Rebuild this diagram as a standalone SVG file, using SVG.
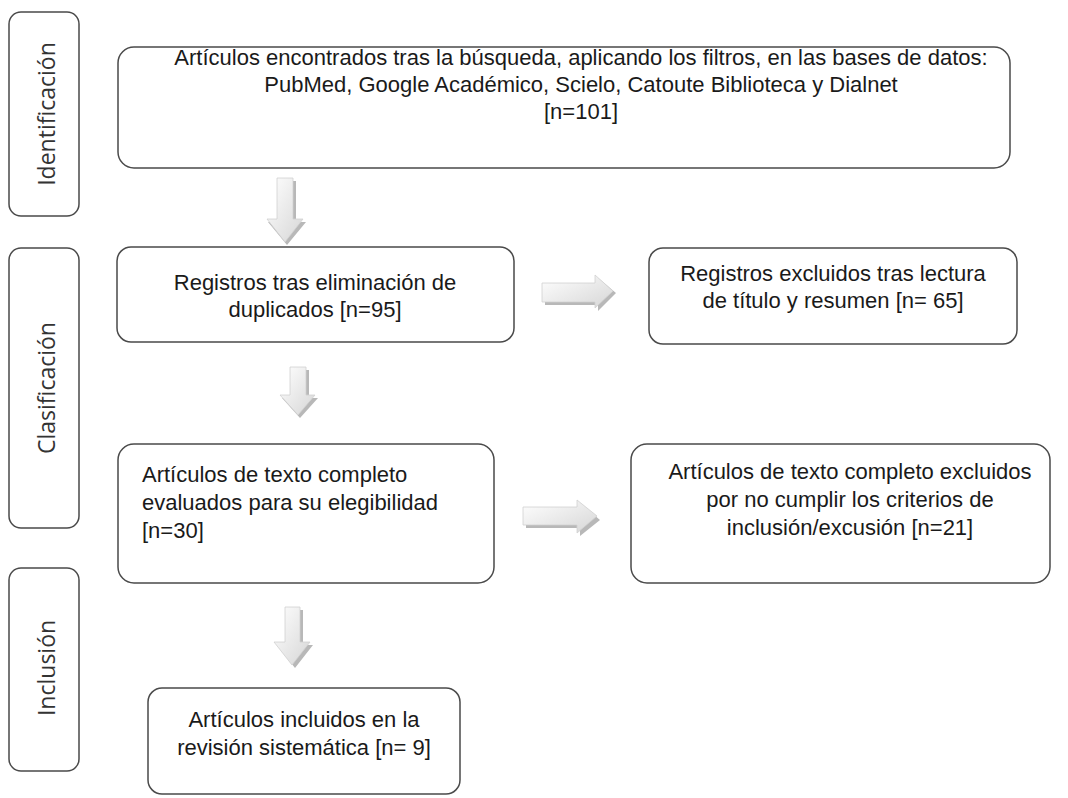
<svg xmlns="http://www.w3.org/2000/svg" width="1068" height="798" viewBox="0 0 1068 798">
<defs>
<style>
.box{fill:#fff;stroke:#4a4a4a;stroke-width:1.5}
.t{font-family:"Liberation Sans",Arial,sans-serif;font-size:22px;fill:#1a1a1a}
.c{text-anchor:middle}
.side{font-family:"Open Sans","Noto Sans",sans-serif;font-size:23px;fill:#333;text-anchor:middle}
.arr{fill:url(#g);stroke:#d0d0d0;stroke-width:0.8}
.sh{fill:#b8b8b8}
</style>
<linearGradient id="g" x1="0" y1="0" x2="1" y2="1">
<stop offset="0" stop-color="#ffffff"/>
<stop offset="1" stop-color="#d6d6d6"/>
</linearGradient>
</defs>
<rect width="1068" height="798" fill="#fff"/>
<g id="side-identificacion">
<rect class="box" x="9" y="12" width="70" height="204" rx="12"/>
<text class="side" transform="translate(55 114) rotate(-90)">Identificación</text>
</g>
<g id="side-clasificacion">
<rect class="box" x="9" y="248" width="70" height="280" rx="12"/>
<text class="side" transform="translate(55 388) rotate(-90)">Clasificación</text>
</g>
<g id="side-inclusion">
<rect class="box" x="9" y="568" width="70" height="203" rx="12"/>
<text class="side" transform="translate(55 668) rotate(-90)">Inclusión</text>
</g>
<g id="n-identificados">
<rect class="box" x="118" y="47" width="892" height="121" rx="16"/>
<text class="t c" x="581" y="65">Artículos encontrados tras la búsqueda, aplicando los filtros, en las bases de datos:</text>
<text class="t c" x="581" y="92">PubMed, Google Académico, Scielo, Catoute Biblioteca y Dialnet</text>
<text class="t c" x="581" y="119">[n=101]</text>
</g>
<g id="n-registros">
<rect class="box" x="117" y="247" width="397" height="95" rx="14"/>
<text class="t c" x="315" y="290">Registros tras eliminación de</text>
<text class="t c" x="315" y="317">duplicados [n=95]</text>
</g>
<g id="n-excluidos">
<rect class="box" x="649" y="248" width="368" height="96" rx="14"/>
<text class="t c" x="833" y="281">Registros excluidos tras lectura</text>
<text class="t c" x="833" y="308">de título y resumen [n= 65]</text>
</g>
<g id="n-evaluados">
<rect class="box" x="118" y="444" width="376" height="139" rx="16"/>
<text class="t" x="142" y="482">Artículos de texto completo</text>
<text class="t" x="142" y="510">evaluados para su elegibilidad</text>
<text class="t" x="142" y="538">[n=30]</text>
</g>
<g id="n-excluidos2">
<rect class="box" x="631" y="444" width="419" height="139" rx="16"/>
<text class="t c" x="850" y="479">Artículos de texto completo excluidos</text>
<text class="t c" x="850" y="507">por no cumplir los criterios de</text>
<text class="t c" x="850" y="535">inclusión/excusión [n=21]</text>
</g>
<g id="n-incluidos">
<rect class="box" x="148" y="688" width="312" height="106" rx="14"/>
<text class="t c" x="304" y="727">Artículos incluidos en la</text>
<text class="t c" x="304" y="755">revisión sistemática [n= 9]</text>
</g>
<g id="connectors">
<path class="sh" d="M280 181 H296 V222 H306 L287 245 L268 222 H280 Z"/>
<path class="arr" d="M277 178 H293 V219 H303 L285 242 L267 219 H277 Z"/>
<path class="sh" d="M293 370 H309 V398 H318 L300 418 L282 398 H293 Z"/>
<path class="arr" d="M290 367 H306 V395 H315 L298 415 L280 395 H290 Z"/>
<path class="sh" d="M288 610 H303 V645 H313 L295 668 L277 645 H288 Z"/>
<path class="arr" d="M285 607 H300 V642 H310 L292 665 L274 642 H285 Z"/>
<path class="sh" d="M545 287 H598 V278 L616 293 L598 311 V305 H545 Z"/>
<path class="arr" d="M542 283 H595 V275 L613 291 L595 308 V302 H542 Z"/>
<path class="sh" d="M526 511 H580 V503 L600 520 L580 536 V528 H526 Z"/>
<path class="arr" d="M523 507 H577 V500 L597 516 L577 533 V525 H523 Z"/>
</g>
</svg>
